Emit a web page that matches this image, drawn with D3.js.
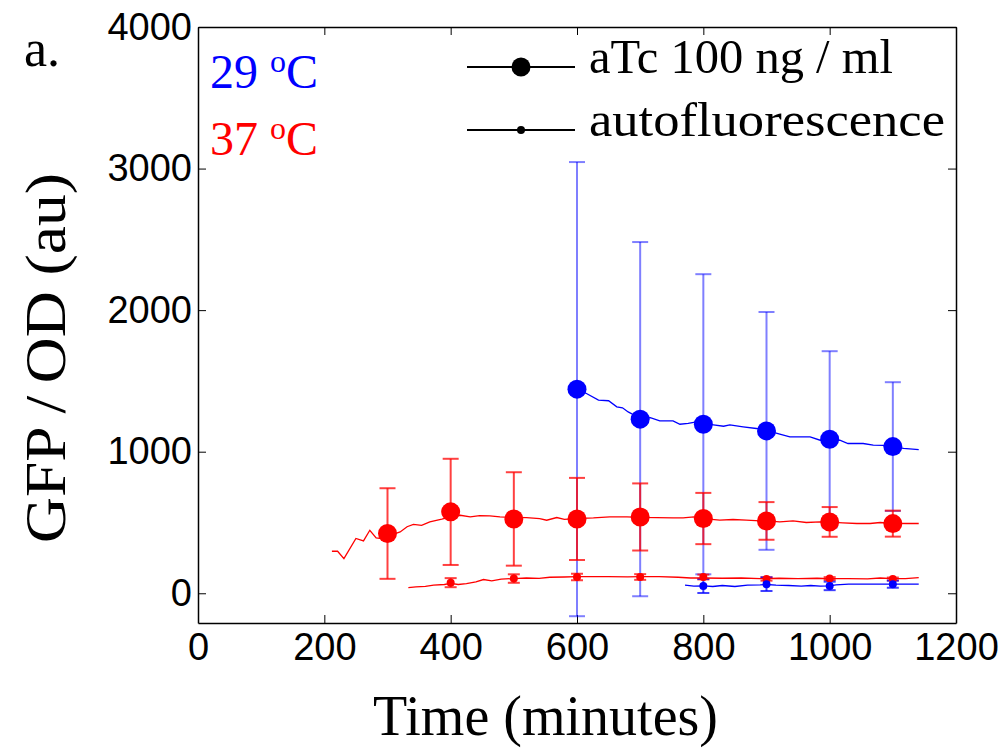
<!DOCTYPE html>
<html>
<head>
<meta charset="utf-8">
<script src="https://cdn.jsdelivr.net/npm/d3@7"></script>
<style>
  html, body { margin: 0; padding: 0; background: #fff; }
  svg { display: block; }
</style>
</head>
<body>
<div id="chart"></div>
<script>
//#region Data
const timeTicks = [0, 200, 400, 600, 800, 1000, 1200];
const gfpTicks = [0, 1000, 2000, 3000, 4000];

// 29 oC, aTc 100 ng/ml: markers with error bars
const blueAtcTimes = [600, 700, 800, 900, 1000, 1100];
const blueAtcMeans = [1442, 1230, 1194, 1147, 1088, 1036];
const blueAtcErrors = [1604, 1251, 1060, 840, 622, 455];

// 37 oC, aTc 100 ng/ml
const redAtcTimes = [300, 400, 500, 600, 700, 800, 900, 1000, 1100];
const redAtcMeans = [422, 575, 525, 525, 539, 528, 511, 504, 492];
const redAtcErrors = [320, 375, 330, 290, 237, 181, 133, 105, 92];

// autofluorescence markers
const redAutoTimes = [400, 500, 600, 700, 800, 900, 1000, 1100];
const redAutoMeans = [75, 104, 115, 115, 115, 101, 104, 101];
const redAutoErrors = [32, 30, 23, 20, 17, 12, 10, 10];

const blueAutoTimes = [800, 900, 1000, 1100];
const blueAutoMeans = [52, 64, 52, 64];
const blueAutoErrors = [50, 48, 30, 25];

// continuous traces
const blueAtcLineT = [600, 615, 634, 650, 663, 672, 681, 700, 716, 731, 752, 763, 776, 789, 800, 816, 832, 842, 863, 884, 900, 921, 937, 969, 985, 1000, 1016, 1029, 1053, 1069, 1085, 1100, 1117, 1141];
const blueAtcLineV = [1440, 1411, 1364, 1360, 1317, 1310, 1281, 1236, 1241, 1218, 1218, 1194, 1200, 1211, 1196, 1190, 1180, 1189, 1176, 1164, 1150, 1124, 1105, 1105, 1081, 1084, 1081, 1058, 1058, 1046, 1044, 1036, 1023, 1015];

const redAtcLineT = [212, 221, 231, 250, 262, 272, 282, 291, 300, 310, 320, 331, 341, 354, 367, 386, 400, 415, 431, 446, 462, 478, 500, 520, 541, 552, 568, 580, 600, 626, 652, 679, 700, 726, 752, 768, 785, 800, 826, 847, 868, 890, 900, 921, 942, 963, 985, 1000, 1021, 1043, 1064, 1080, 1100, 1122, 1141];
const redAtcLineV = [297, 297, 245, 387, 370, 445, 391, 387, 410, 418, 433, 470, 486, 480, 504, 523, 540, 551, 539, 549, 546, 539, 536, 535, 528, 516, 535, 522, 528, 532, 539, 539, 536, 535, 532, 532, 539, 528, 516, 521, 516, 511, 512, 504, 511, 500, 504, 502, 497, 493, 493, 500, 494, 493, 493];

const redAutoLineT = [333, 345, 360, 373, 390, 400, 412, 425, 440, 452, 465, 480, 500, 520, 540, 557, 580, 600, 620, 650, 680, 700, 730, 760, 780, 800, 830, 860, 890, 920, 950, 980, 1000, 1030, 1060, 1080, 1100, 1120, 1141];
const redAutoLineV = [40, 45, 48, 57, 62, 70, 62, 68, 80, 97, 88, 100, 104, 108, 105, 113, 115, 117, 118, 117, 116, 117, 117, 113, 108, 108, 106, 108, 103, 106, 104, 106, 104, 103, 102, 108, 104, 103, 111];

const blueAutoLineT = [771, 785, 800, 815, 830, 850, 870, 890, 900, 915, 935, 955, 970, 985, 1000, 1010, 1030, 1060, 1100, 1141];
const blueAutoLineV = [57, 50, 52, 48, 55, 48, 58, 60, 62, 57, 55, 50, 55, 50, 52, 60, 64, 64, 64, 64];
//#endregion

//#region SVG setup
const width = 1008;
const height = 752;
const margin = { left: 198, top: 27, right: 52, bottom: 129 };
const blue = "#0000ff";
const red = "#ff0000";
const serif = "Palatino, 'Palatino Linotype', 'Book Antiqua', 'Liberation Serif', 'Times New Roman', serif";
const sans = "Helvetica, Arial, 'Liberation Sans', sans-serif";

const chart = d3.select("#chart").append("svg")
  .attr("width", width)
  .attr("height", height);
//#endregion

//#region Scales
const scaleX = d3.scaleLinear()
  .domain([0, 1200])
  .range([margin.left, width - margin.right]);

const scaleY = d3.scaleLinear()
  .domain([-210, 4000])
  .range([height - margin.bottom, margin.top]);
//#endregion

//#region Axes (box with inward ticks)
const plain = d3.format("d");

function styleAxis(g) {
  g.select(".domain").attr("stroke", "#000").attr("stroke-width", 1.5);
  g.selectAll(".tick line").attr("stroke", "#000").attr("stroke-width", 1);
  g.selectAll(".tick text")
    .attr("fill", "#000")
    .attr("font-family", sans)
    .attr("font-size", 38);
}

chart.append("g")
  .attr("transform", `translate(0, ${height - margin.bottom})`)
  .call(d3.axisBottom(scaleX).tickValues(timeTicks).tickFormat(plain).tickSizeInner(-8).tickSizeOuter(0).tickPadding(10))
  .call(styleAxis);

chart.append("g")
  .attr("transform", `translate(${margin.left}, 0)`)
  .call(d3.axisLeft(scaleY).tickValues(gfpTicks).tickFormat(plain).tickSizeInner(-8).tickSizeOuter(0).tickPadding(6))
  .call(styleAxis);

chart.append("g")
  .attr("transform", `translate(0, ${margin.top})`)
  .call(d3.axisTop(scaleX).tickValues(timeTicks).tickSizeInner(-8).tickSizeOuter(0).tickFormat(""))
  .call(styleAxis);

chart.append("g")
  .attr("transform", `translate(${width - margin.right}, 0)`)
  .call(d3.axisRight(scaleY).tickValues(gfpTicks).tickSizeInner(-8).tickSizeOuter(0).tickFormat(""))
  .call(styleAxis);
//#endregion

//#region Series
const line = d3.line()
  .x(d => scaleX(d[0]))
  .y(d => scaleY(d[1]));

function drawErrorBars(times, means, errors, color, opacity, capWidth) {
  const g = chart.append("g")
    .attr("stroke", color)
    .attr("stroke-opacity", opacity)
    .attr("stroke-width", 2);
  times.forEach((t, i) => {
    const x = scaleX(t);
    const y0 = scaleY(means[i] - errors[i]);
    const y1 = scaleY(means[i] + errors[i]);
    g.append("line").attr("x1", x).attr("x2", x).attr("y1", y0).attr("y2", y1);
    g.append("line").attr("x1", x - capWidth / 2).attr("x2", x + capWidth / 2).attr("y1", y0).attr("y2", y0);
    g.append("line").attr("x1", x - capWidth / 2).attr("x2", x + capWidth / 2).attr("y1", y1).attr("y2", y1);
  });
}

function drawTrace(times, values, color) {
  chart.append("path")
    .datum(d3.zip(times, values))
    .attr("fill", "none")
    .attr("stroke", color)
    .attr("stroke-width", 1.3)
    .attr("d", line);
}

function drawDots(times, means, color, r) {
  chart.append("g")
    .selectAll("circle")
    .data(d3.zip(times, means))
    .join("circle")
    .attr("cx", d => scaleX(d[0]))
    .attr("cy", d => scaleY(d[1]))
    .attr("r", r)
    .attr("fill", color);
}

drawErrorBars(blueAtcTimes, blueAtcMeans, blueAtcErrors, blue, 0.5, 16);
drawErrorBars(redAtcTimes, redAtcMeans, redAtcErrors, red, 0.75, 16);
drawErrorBars(redAutoTimes, redAutoMeans, redAutoErrors, red, 0.75, 12);
drawErrorBars(blueAutoTimes, blueAutoMeans, blueAutoErrors, blue, 0.75, 12);

drawTrace(redAtcLineT, redAtcLineV, red);
drawTrace(blueAtcLineT, blueAtcLineV, blue);
drawTrace(redAutoLineT, redAutoLineV, red);
drawTrace(blueAutoLineT, blueAutoLineV, blue);

drawDots(redAtcTimes, redAtcMeans, red, 9.5);
drawDots(blueAtcTimes, blueAtcMeans, blue, 9.5);
drawDots(redAutoTimes, redAutoMeans, red, 4);
drawDots(blueAutoTimes, blueAutoMeans, blue, 4);
//#endregion

//#region Labels
chart.append("text")
  .attr("x", 24).attr("y", 66)
  .attr("font-family", serif).attr("font-size", 52)
  .text("a.");

chart.append("text")
  .attr("transform", "translate(65, 358) rotate(-90)")
  .attr("text-anchor", "middle")
  .attr("font-family", serif).attr("font-size", 56)
  .attr("textLength", 370).attr("lengthAdjust", "spacingAndGlyphs")
  .text("GFP\u2009/\u2009OD (au)");

chart.append("text")
  .attr("x", 373).attr("y", 735)
  .attr("font-family", serif).attr("font-size", 56)
  .attr("textLength", 345).attr("lengthAdjust", "spacingAndGlyphs")
  .text("Time (minutes)");

// temperature key
[["29", blue, 88], ["37", red, 155]].forEach(([deg, color, y]) => {
  const t = chart.append("text")
    .attr("x", 210).attr("y", y)
    .attr("fill", color)
    .attr("font-family", serif).attr("font-size", 48);
  t.append("tspan").text(deg + " ");
  t.append("tspan").attr("dy", -16).attr("font-size", 32).text("o");
  t.append("tspan").attr("dy", 16).text("C");
});

// legend
const legendItems = [
  { label: "aTc 100 ng / ml", r: 9.5, y: 67, len: 304 },
  { label: "autofluorescence", r: 4, y: 130, len: 356 }
];
const legend = chart.append("g");
legendItems.forEach(item => {
  legend.append("line")
    .attr("x1", 467).attr("x2", 575)
    .attr("y1", item.y).attr("y2", item.y)
    .attr("stroke", "#000").attr("stroke-width", 2);
  legend.append("circle")
    .attr("cx", 521).attr("cy", item.y).attr("r", item.r)
    .attr("fill", "#000");
  legend.append("text")
    .attr("x", 589).attr("y", item.y + 6)
    .attr("font-family", serif).attr("font-size", 49)
    .attr("textLength", item.len).attr("lengthAdjust", "spacingAndGlyphs")
    .text(item.label);
});
//#endregion
</script>
</body>
</html>
